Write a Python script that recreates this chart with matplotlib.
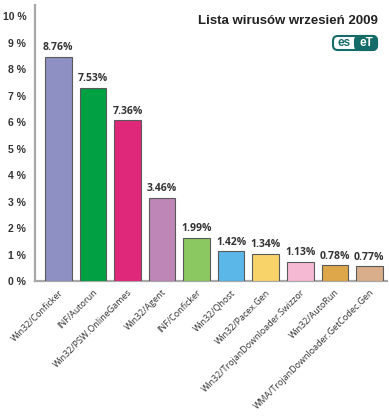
import matplotlib
matplotlib.use("Agg")
import matplotlib.pyplot as plt
from matplotlib.patches import FancyBboxPatch
from matplotlib.transforms import ScaledTranslation

# %% Data (bar heights as drawn in the source picture, printed labels as given)
names = [
    "Win32/Conficker",
    "INF/Autorun",
    "Win32/PSW.OnlineGames",
    "Win32/Agent",
    "INF/Conficker",
    "Win32/Qhost",
    "Win32/Pacex.Gen",
    "Win32/TrojanDownloader.Swizzor",
    "Win32/AutoRun",
    "WMA/TrojanDownloader.GetCodec.Gen",
]
heights = [8.47, 7.30, 6.08, 3.15, 1.64, 1.13, 1.03, 0.72, 0.60, 0.56]
value_labels = ["8.76%", "7.53%", "7.36%", "3.46%", "1.99%",
                "1.42%", "1.34%", "1.13%", "0.78%", "0.77%"]
colors = ["#8E8FC3", "#00A043", "#E0287A", "#BE85B7", "#8CC862",
          "#5BB7E7", "#F8D36A", "#F6B9D3", "#DEA84A", "#D9AE8B"]
yticks = list(range(0, 11))
ytick_labels = [f"{t} %" for t in yticks]
title = "Lista wirusów wrzesień 2009"

# %% Figure
W, H = 389, 417
fig = plt.figure(figsize=(W / 100, H / 100), dpi=100)
ax = fig.add_axes([34.5 / W, (H - 281) / H, 352.5 / W, 276 / H])

x = list(range(len(names)))
ax.bar(x, heights, width=0.77, color=colors, edgecolor="#5a5a5a", linewidth=0.8,
       zorder=3)

for xi, h, lab in zip(x, heights, value_labels):
    ax.annotate(lab, (xi, h), xytext=(0, 2.5), textcoords="offset points",
                ha="center", va="bottom", fontsize=7.5, fontweight="bold",
                family="Open Sans", color="#333333")

ax.set_xlim(-0.69, 9.51)
ax.set_ylim(0, 10.43)

ax.set_yticks(yticks)
ax.set_yticklabels(ytick_labels, fontsize=7.5, fontweight="bold",
                   family="Liberation Sans", color="#333333")
shift = ScaledTranslation(0, -4.5 / 72, fig.dpi_scale_trans)
for lbl in ax.get_yticklabels():
    lbl.set_transform(lbl.get_transform() + shift)

ax.set_xticks(x)
ax.set_xticklabels(names, rotation=45, ha="right", va="top",
                   rotation_mode="anchor", fontsize=6.5, family="Open Sans",
                   color="#333333")
ax.tick_params(axis="both", length=0)
ax.tick_params(axis="y", pad=6)
ax.tick_params(axis="x", pad=5)

for side in ("top", "right"):
    ax.spines[side].set_visible(False)
for side in ("left", "bottom"):
    ax.spines[side].set_color("#A8A8A8")
    ax.spines[side].set_linewidth(1.6)

# %% Title and logo
fig.text(378 / W, 1 - 21 / H, title, ha="right", va="center", fontsize=9.5,
         fontweight="bold", family="Liberation Sans", color="#222222")

teal = "#146B68"
lx0, ly0, lw, lh = 333 / W, 1 - 50 / H, 44 / W, 14 / H
fig.patches.append(FancyBboxPatch((lx0, ly0), lw, lh,
                                  boxstyle="round,pad=0,rounding_size=0.012",
                                  transform=fig.transFigure, facecolor="white",
                                  edgecolor=teal, linewidth=1.5))
fig.patches.append(FancyBboxPatch((lx0 + lw * 0.5, ly0), lw * 0.5, lh,
                                  boxstyle="round,pad=0,rounding_size=0.012",
                                  transform=fig.transFigure, facecolor=teal,
                                  edgecolor=teal, linewidth=1.5))
fig.text(lx0 + lw * 0.25, ly0 + lh / 2, "es", ha="center", va="center",
         fontsize=8.5, fontweight="bold", family="Liberation Sans", color=teal)
fig.text(lx0 + lw * 0.75, ly0 + lh / 2, "eT", ha="center", va="center",
         fontsize=8.5, fontweight="bold", family="Liberation Sans", color="white")

fig.savefig("out.png", dpi=100)
